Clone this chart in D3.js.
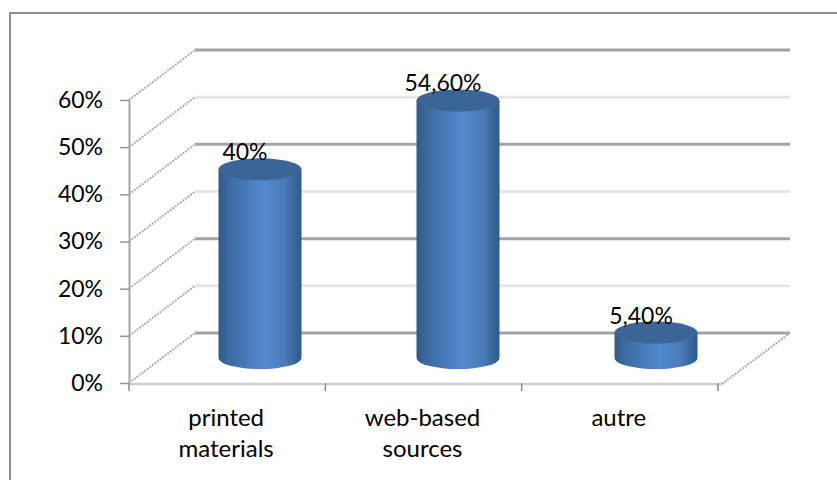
<!DOCTYPE html>
<html>
<head>
<meta charset="utf-8">
<script src="https://cdn.jsdelivr.net/npm/d3@7"></script>
<style>
  html, body { margin: 0; padding: 0; background: #fff; overflow: hidden; }
  svg { display: block; }
  text { font-family: Lato, "Open Sans", sans-serif; fill: #000; }
</style>
</head>
<body>
<svg id="chart" width="837" height="480"></svg>
<script>
const categories = ["printed materials", "web-based sources", "autre"];
const categoryLines = [["printed", "materials"], ["web-based", "sources"], ["autre"]];
const values = [40, 54.6, 5.4];
const valueLabels = ["40%", "54,60%", "5,40%"];
const yTicks = [0, 10, 20, 30, 40, 50, 60];

const svg = d3.select("#chart");

// Projection of the 3D box: front plane plus a fixed depth offset
const depth = { dx: 66, dy: -50 };
const y = d3.scaleLinear().domain([0, 60]).range([383, 100]);
const x = d3.scaleBand().domain(categories).range([129, 718]);
// Cylinders stand midway through the depth of the floor
const xBars = d3.scaleBand().domain(categories).range([161, 755]);

const defs = svg.append("defs");
const grad = defs.append("linearGradient").attr("id", "cyl");
[[0, "#2f5a8a"], [0.12, "#3c6aa0"], [0.55, "#5389ce"], [0.8, "#4a7ab6"], [1, "#2f5a88"]]
  .forEach(([o, c]) => grad.append("stop").attr("offset", o).attr("stop-color", c));

// Outer frame: its right and bottom edges run past the visible area
svg.append("rect")
  .attr("x", 10).attr("y", 13).attr("width", 900).attr("height", 600)
  .attr("fill", "#fff").attr("stroke", "#8f8f8f").attr("stroke-width", 2);

// Back wall gridlines and the slanted side-wall segments
const wall = svg.append("g");
yTicks.forEach(t => {
  const major = t % 20 === 0;
  const yBack = y(t) + depth.dy;
  wall.append("line")
    .attr("x1", x.range()[0] + depth.dx).attr("x2", 790)
    .attr("y1", yBack).attr("y2", yBack)
    .attr("stroke", major ? "#a3a3a3" : "#e6e6e6")
    .attr("stroke-width", 3);
  wall.append("line")
    .attr("x1", x.range()[0]).attr("y1", y(t))
    .attr("x2", x.range()[0] + depth.dx).attr("y2", yBack)
    .attr("stroke", "#adadad").attr("stroke-width", 2)
    .attr("stroke-dasharray", "2 1.2");
});

// Right edge of the floor
wall.append("line")
  .attr("x1", x.range()[1] + 4).attr("y1", y(0) + 1)
  .attr("x2", 790).attr("y2", y(0) + depth.dy)
  .attr("stroke", "#adadad").attr("stroke-width", 2)
  .attr("stroke-dasharray", "2 1.2");

// Value axis
const yAxis = svg.append("g").attr("transform", `translate(${x.range()[0]},0)`)
  .call(d3.axisLeft(y).tickValues(yTicks).tickSize(9).tickSizeOuter(0).tickPadding(17).tickFormat(d => d + "%"));
yAxis.select(".domain").attr("stroke", "#a6a6a6").attr("stroke-width", 2);
yAxis.selectAll(".tick line").attr("stroke", "#969696").attr("stroke-width", 1.5);
yAxis.selectAll("text").attr("font-size", 23).style("font-family", "Lato, sans-serif");

// Category axis
const tickPositions = [...categories.map(c => x(c)), x.range()[1]];
const xAxisLine = svg.append("g");
xAxisLine.append("line")
  .attr("x1", x.range()[0]).attr("x2", x.range()[1] + 4)
  .attr("y1", y(0) + 1).attr("y2", y(0) + 1)
  .attr("stroke", "#d0d0d0").attr("stroke-width", 2.5);
xAxisLine.selectAll("line.tick").data(tickPositions).join("line")
  .attr("class", "tick")
  .attr("x1", d => d).attr("x2", d => d)
  .attr("y1", y(0)).attr("y2", y(0) + 8)
  .attr("stroke", "#8c8c8c").attr("stroke-width", 1.5);

const labels = svg.append("g").attr("text-anchor", "middle").attr("font-size", 24);
categories.forEach((c, i) => {
  categoryLines[i].forEach((line, j) => {
    labels.append("text")
      .attr("x", x(c) + x.bandwidth() / 2 - 1)
      .attr("y", 426 + j * 31)
      .text(line);
  });
});

// Cylinders and their value labels
const barW = 83, ry = 11, baseOffset = 25, labelShift = -15;
const bars = svg.append("g");
values.forEach((v, i) => {
  const cx = xBars(categories[i]) + xBars.bandwidth() / 2;
  const yBase = y(0) - baseOffset;
  const yTop = yBase - (y(0) - y(v));
  const rx = barW / 2;
  bars.append("path")
    .attr("d", `M${cx - rx},${yTop} L${cx - rx},${yBase}
                A${rx},${ry} 0 0 0 ${cx + rx},${yBase}
                L${cx + rx},${yTop} Z`)
    .attr("fill", "url(#cyl)");
  bars.append("ellipse")
    .attr("cx", cx).attr("cy", yTop).attr("rx", rx).attr("ry", ry)
    .attr("fill", "#3a6596");
  svg.append("text")
    .attr("x", cx + labelShift)
    .attr("y", yTop - 9)
    .attr("text-anchor", "middle")
    .attr("font-size", 23)
    .text(valueLabels[i]);
});
</script>
</body>
</html>
